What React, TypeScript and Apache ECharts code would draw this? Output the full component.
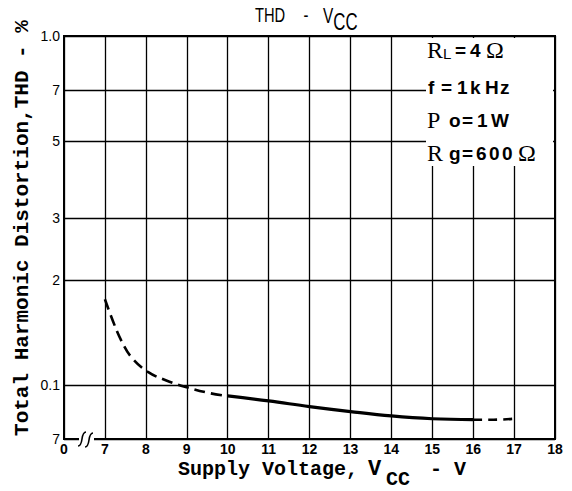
import React, { useEffect, useRef } from "react";
import * as echarts from "echarts";

// ---- data ----
const vccDashedLow = [7, 7.2, 7.4, 7.65, 8.05, 8.5, 9, 9.55, 10];
const thdDashedLow = [0.176, 0.152, 0.134, 0.12, 0.109, 0.103, 0.0985, 0.0948, 0.093];
const vccSolid = [10, 11, 12, 13, 14, 15, 16];
const thdSolid = [0.093, 0.09, 0.0867, 0.0839, 0.0815, 0.08, 0.0795];
const vccDashedHigh = [16, 16.5, 17];
const thdDashedHigh = [0.0795, 0.0795, 0.08];

const yTickValues = [0.07, 0.1, 0.2, 0.3, 0.5, 0.7, 1.0];
const yTickLabels = ["7", "0.1", "2", "3", "5", "7", "1.0"];
const xMin = 6; // drawn as the broken "0"
const xMax = 18;
const xBreakLabel = "0";

const titleText = "{a|THD}{d|-}{v|V}{s|CC}";
const yTitle = "Total Harmonic Distortion,THD - %";

// annotation lines: [character, kind, box width]
type Part = [string, string, number];
const annRL: Part[] = [["R", "serif", 16], ["L", "sub", 12], ["=", "sans", 15], ["4", "sans", 16], ["Ω", "omega", 30]];
const annF: Part[] = [["f", "sans", 13], ["=", "sans", 16], ["1", "sans", 13], ["k", "sans", 15], ["H", "sans", 15], ["z", "sans", 15]];
const annPo: Part[] = [["P", "serif", 22], ["o", "sans", 13], ["=", "sans", 15], ["1", "sans", 14], ["W", "sans", 20]];
const annRg: Part[] = [["R", "serif", 22], ["g", "sans", 13], ["=", "sans", 14], ["6", "sans", 13], ["0", "sans", 13], ["0", "sans", 16], ["Ω", "omega", 30]];

const toLog = (v: number) => Math.log10(v);
const pairs = (xs: number[], ys: number[]) => xs.map((x, i) => [x, toLog(ys[i])]);

const kindStyle: Record<string, any> = {
  serif: { fontFamily: "Liberation Serif", fontSize: 24 },
  sub: { fontFamily: "Liberation Sans", fontSize: 15, padding: [6, 0, 0, 0] },
  sans: { fontFamily: "Liberation Sans", fontSize: 19, fontWeight: "bold" },
  omega: { fontFamily: "Liberation Serif", fontSize: 24 },
};

function annLine(parts: Part[]) {
  const rich: Record<string, any> = {};
  let text = "";
  parts.forEach(([ch, kind, w], i) => {
    const key = "t" + i;
    rich[key] = { ...kindStyle[kind], width: w, color: "#000" };
    text += "{" + key + "|" + ch + "}";
  });
  return { text, rich };
}

export default function App() {
  const ref = useRef<HTMLDivElement>(null);
  useEffect(() => {
    document.body.style.margin = "0";
    if (!ref.current) return;
    const chart = echarts.init(ref.current, null, { renderer: "svg" });
    const yLogTicks = yTickValues.map(toLog);
    const sans = "Liberation Sans";
    const mono = "Liberation Mono";
    const annTexts = [
      { parts: annRL, x: 427, y: 50 },
      { parts: annF, x: 428, y: 87 },
      { parts: annPo, x: 427, y: 120 },
      { parts: annRg, x: 427, y: 153 },
    ].map((a) => {
      const { text, rich } = annLine(a.parts);
      return {
        type: "text",
        x: a.x,
        y: a.y,
        z: 100,
        style: { text, rich, align: "left", verticalAlign: "middle" },
      };
    });
    const option: any = {
      animation: false,
      backgroundColor: "#fff",
      grid: {
        left: 64,
        right: 17,
        top: 36,
        bottom: 52,
        show: true,
        borderColor: "#000",
        borderWidth: 2,
        containLabel: false,
        outerBoundsMode: "none",
      },
      xAxis: {
        type: "value",
        min: xMin,
        max: xMax,
        interval: 1,
        axisLine: { show: false },
        axisTick: { show: false },
        splitLine: { show: true, lineStyle: { color: "#000", width: 1.3 } },
        axisLabel: {
          margin: 3,
          fontFamily: sans,
          fontWeight: "bold",
          fontSize: 14,
          color: "#000",
          formatter: (v: number) => (v === xMin ? xBreakLabel : String(v)),
        },
      },
      yAxis: {
        type: "value",
        min: toLog(yTickValues[0]),
        max: toLog(yTickValues[yTickValues.length - 1]),
        axisLine: { show: false },
        axisTick: { show: false, customValues: yLogTicks },
        splitLine: { show: true, lineStyle: { color: "#000", width: 1.3 } },
        axisLabel: {
          customValues: yLogTicks,
          margin: 4,
          fontFamily: sans,
          fontSize: 14,
          color: "#000",
          formatter: (v: number) => {
            const i = yLogTicks.findIndex((t) => Math.abs(t - v) < 1e-6);
            return i >= 0 ? yTickLabels[i] : "";
          },
        },
      },
      series: [
        {
          type: "line",
          data: pairs(vccDashedLow, thdDashedLow),
          smooth: 0.4,
          symbol: "none",
          lineStyle: { color: "#000", width: 2.6, type: [11, 6] },
          z: 5,
        },
        {
          type: "line",
          data: pairs(vccSolid, thdSolid),
          smooth: 0.4,
          symbol: "none",
          lineStyle: { color: "#000", width: 3.2 },
          z: 5,
        },
        {
          type: "line",
          data: pairs(vccDashedHigh, thdDashedHigh),
          smooth: 0.4,
          symbol: "none",
          lineStyle: { color: "#000", width: 2.6, type: [9, 6] },
          z: 5,
        },
      ],
      graphic: [
        {
          type: "text",
          x: 255,
          y: 15,
          scaleX: 0.7,
          z: 100,
          style: {
            text: titleText,
            align: "left",
            verticalAlign: "middle",
            rich: {
              a: { fontFamily: sans, fontSize: 21, color: "#000" },
              d: { fontFamily: sans, fontSize: 21, color: "#000", padding: [0, 21, 0, 26] },
              v: { fontFamily: sans, fontSize: 22, color: "#000" },
              s: { fontFamily: sans, fontSize: 24, color: "#000", padding: [12, 0, 0, 0] },
            },
          },
        },
        {
          type: "text",
          x: 22,
          y: 228,
          rotation: Math.PI / 2,
          z: 100,
          style: {
            text: yTitle,
            align: "center",
            verticalAlign: "middle",
            fontFamily: mono,
            fontWeight: "bold",
            fontSize: 21,
            fill: "#000",
          },
        },
        {
          type: "text",
          x: 178,
          y: 469,
          z: 100,
          style: {
            text: "{m|Supply Voltage,}{v|V}",
            align: "left",
            verticalAlign: "middle",
            rich: {
              m: { fontFamily: mono, fontWeight: "bold", fontSize: 20, color: "#000" },
              v: { fontFamily: mono, fontWeight: "bold", fontSize: 22, color: "#000", padding: [0, 0, 0, 10] },
            },
          },
        },
        {
          type: "text",
          x: 386,
          y: 479,
          z: 100,
          style: {
            text: "CC",
            align: "left",
            verticalAlign: "middle",
            fontFamily: mono,
            fontWeight: "bold",
            fontSize: 20,
            fill: "#000",
          },
        },
        {
          type: "text",
          x: 430,
          y: 469,
          z: 100,
          style: {
            text: "- V",
            align: "left",
            verticalAlign: "middle",
            fontFamily: mono,
            fontWeight: "bold",
            fontSize: 20,
            fill: "#000",
          },
        },
        {
          type: "rect",
          z: 90,
          shape: { x: 426, y: 38, width: 127, height: 128 },
          style: { fill: "#fff" },
        },
        ...annTexts,
        {
          type: "rect",
          z: 100,
          shape: { x: 79, y: 436, width: 15, height: 6 },
          style: { fill: "#fff" },
        },
        {
          type: "bezierCurve",
          z: 101,
          shape: { x1: 78, y1: 446, cpx1: 84, cpy1: 446, cpx2: 80, cpy2: 432, x2: 86, y2: 432 },
          style: { stroke: "#000", lineWidth: 1.6, fill: "none" },
        },
        {
          type: "bezierCurve",
          z: 101,
          shape: { x1: 85, y1: 447, cpx1: 91, cpy1: 447, cpx2: 87, cpy2: 433, x2: 93, y2: 433 },
          style: { stroke: "#000", lineWidth: 1.6, fill: "none" },
        },
      ],
    };
    chart.setOption(option);
    return () => chart.dispose();
  }, []);
  return <div ref={ref} style={{ width: 572, height: 491 }} />;
}
